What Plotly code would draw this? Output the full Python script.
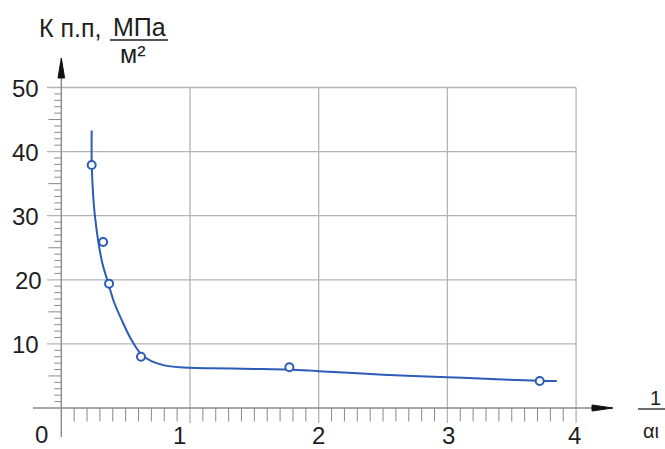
import plotly.graph_objects as go

# ---- data ----
point_x = [0.236, 0.325, 0.371, 0.619, 1.772, 3.717]
point_y = [37.9, 25.9, 19.4, 8.0, 6.35, 4.2]

curve_x = [0.236, 0.236, 0.248, 0.262, 0.287, 0.32, 0.364, 0.41, 0.47, 0.54, 0.62, 0.70,
           0.80, 0.92, 1.155, 1.5, 1.772, 2.0, 2.5, 3.0, 3.25, 3.717, 3.85]
curve_y = [43.3, 38.5, 33.0, 29.8, 26.0, 22.5, 19.5, 16.5, 13.7, 10.8, 8.4, 7.3,
           6.65, 6.35, 6.2, 6.1, 6.0, 5.75, 5.2, 4.8, 4.6, 4.25, 4.2]

x_major = [1, 2, 3, 4]
x_labels = ["0", "1", "2", "3", "4"]
y_major = [10, 20, 30, 40, 50]
y_labels = ["10", "20", "30", "40", "50"]

# ---- pixel calibration (layout only) ----
W, H = 665, 449
X0PX, XUNIT = 61.3, 128.7
Y0PX, YUNIT = 408.0, 6.41
xr = [-X0PX / XUNIT, (W - X0PX) / XUNIT]
yr = [-(H - Y0PX) / YUNIT, Y0PX / YUNIT]


def px2x(px):
    return (px - X0PX) / XUNIT


def px2y(py):
    return (Y0PX - py) / YUNIT


GRID = "#b4b4b4"
AXIS = "#8a8a8a"
BLUE = "#2c5cb8"
TXT = "#1e1e1e"
FONT = "Liberation Sans, Arial, sans-serif"

shapes = []


def line(x0, y0, x1, y1, color, width):
    shapes.append(dict(type="line", xref="x", yref="y", x0=x0, y0=y0, x1=x1, y1=y1,
                       line=dict(color=color, width=width), layer="below"))


# horizontal grid lines
for v in y_major:
    line(px2x(47), v, 4, v, GRID, 1.3)
# vertical grid lines
for v in x_major:
    line(v, px2y(423), v, 50, GRID, 1.3)
# minor x ticks
for i in range(1, 40):
    if i % 10:
        line(i / 10, 0, i / 10, px2y(421.5), AXIS, 1)
# minor y ticks
for i in range(1, 50):
    if i % 10:
        L = 13 if i % 5 == 0 else 7
        line(px2x(X0PX - L), i, 0, i, AXIS, 1)
# axes
line(px2x(33), 0, px2x(596), 0, AXIS, 1.4)
line(0, px2y(437), 0, px2y(76), AXIS, 1.4)
# arrow heads
shapes.append(dict(type="path", xref="x", yref="y",
                   path=f"M {px2x(613)} 0 L {px2x(592)} {px2y(405)} L {px2x(592)} {px2y(411)} Z",
                   fillcolor="#111", line=dict(color="#111", width=1)))
shapes.append(dict(type="path", xref="x", yref="y",
                   path=f"M 0 {px2y(58)} L {px2x(58)} {px2y(78)} L {px2x(64.6)} {px2y(78)} Z",
                   fillcolor="#111", line=dict(color="#111", width=1)))
# fraction lines
line(px2x(110), px2y(40), px2x(168), px2y(40), TXT, 1.3)
line(px2x(638), px2y(409), px2x(665), px2y(409), TXT, 1.3)

fig = go.Figure()
fig.add_trace(go.Scatter(x=curve_x, y=curve_y, mode="lines",
                         line=dict(color=BLUE, width=2, shape="spline", smoothing=0.8),
                         hoverinfo="skip", showlegend=False))
fig.add_trace(go.Scatter(x=point_x, y=point_y, mode="markers",
                         marker=dict(symbol="circle", size=8, color="white",
                                     line=dict(color=BLUE, width=2)),
                         showlegend=False))

ann = []
x_label_pos = [0] + x_major
x_shift = [-20, -11, 0, 1, -2]
y_center = [434, 435, 435, 435, 435]
for v, t, dx, cy in zip(x_label_pos, x_labels, x_shift, y_center):
    ann.append(dict(x=v, y=0, xref="x", yref="y", text=t, showarrow=False,
                    xshift=dx, yshift=-(cy - Y0PX), xanchor="center", yanchor="middle",
                    font=dict(size=24, color=TXT, family=FONT)))
y_xshift = [-36, -33, -36, -36, -36]
for v, t, dx in zip(y_major, y_labels, y_xshift):
    ann.append(dict(x=0, y=v, xref="x", yref="y", text=t, showarrow=False,
                    xshift=dx, yshift=-1, xanchor="center", yanchor="middle",
                    font=dict(size=24, color=TXT, family=FONT)))


def txt(px, py, t, size):
    ann.append(dict(x=px2x(px), y=px2y(py), xref="x", yref="y", text=t, showarrow=False,
                    xanchor="center", yanchor="middle",
                    font=dict(size=size, color=TXT, family=FONT)))


txt(70, 28, "К п.п,", 25)
txt(139, 27, "МПа", 25)
txt(133, 54, "м²", 25)
txt(655, 398, "1", 20)
txt(651, 431, "αι", 20)

fig.update_layout(
    width=W, height=H, margin=dict(l=0, r=0, t=0, b=0),
    paper_bgcolor="white", plot_bgcolor="white",
    xaxis=dict(range=xr, visible=False, fixedrange=True),
    yaxis=dict(range=yr, visible=False, fixedrange=True),
    shapes=shapes, annotations=ann, showlegend=False,
)
fig.write_html("out.html")
